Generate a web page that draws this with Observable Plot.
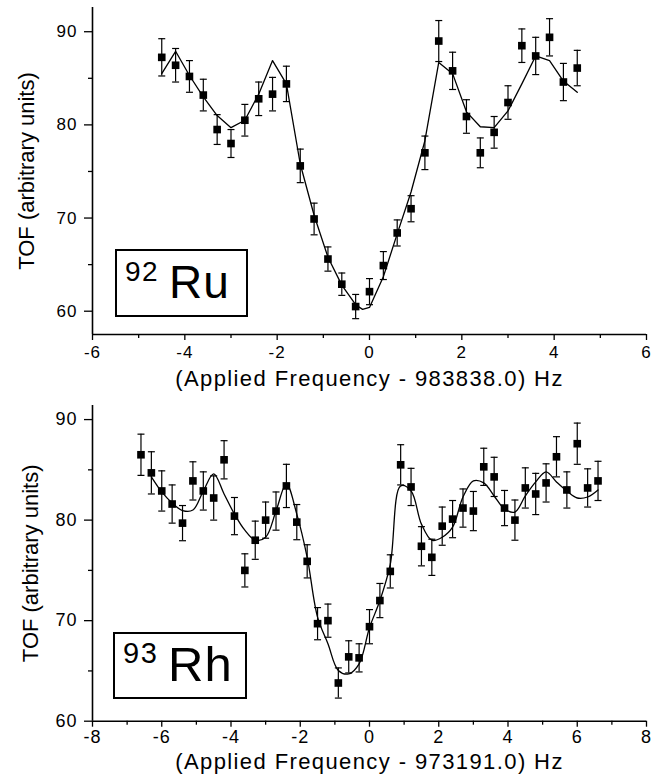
<!DOCTYPE html>
<html><head><meta charset="utf-8">
<script src="https://cdn.jsdelivr.net/npm/d3@7"></script>
<script src="https://cdn.jsdelivr.net/npm/@observablehq/plot@0.6"></script>
<style>
html,body{margin:0;padding:0;background:#fff;}
#wrap{position:relative;width:653px;height:776px;overflow:hidden;font-family:"Liberation Sans",Arial,sans-serif;background:#fff;}
#wrap svg{position:absolute;left:0;overflow:visible;}
g[aria-label="x-axis label"] text{letter-spacing:1.4px;}
g[aria-label="x-axis tick label"] text{letter-spacing:1px;}
g[aria-label="y-axis tick label"] text{letter-spacing:1px;}
.iso{position:absolute;border:2px solid #000;box-sizing:border-box;}
.iso span{position:absolute;line-height:1;white-space:nowrap;color:#000;}
</style></head><body><div id="wrap"></div>
<script>
// ---- 92Ru panel ----
const ruX = [-4.5,-4.2,-3.9,-3.6,-3.3,-3.0,-2.7,-2.4,-2.1,-1.8,-1.5,-1.2,-0.9,-0.6,-0.3,0.0,0.3,0.6,0.9,1.2,1.5,1.8,2.1,2.4,2.7,3.0,3.3,3.6,3.9,4.2,4.5];
const ruY = [87.25,86.4,85.2,83.2,79.5,78.0,80.5,82.8,83.3,84.4,75.6,69.9,65.6,62.9,60.5,62.1,64.9,68.4,71.0,77.0,89.0,85.8,80.9,77.0,79.2,82.4,88.5,87.4,89.4,84.6,86.1];
const ruErr = [2.0,1.8,1.7,1.7,1.6,1.5,1.7,1.8,1.8,1.9,1.8,1.7,1.3,1.2,1.3,1.4,1.5,1.4,1.4,1.8,2.2,2.0,1.8,1.6,1.7,1.8,1.8,2.0,2.0,2.0,1.9];
const ruFitX = [-4.5,-4.2,-3.9,-3.6,-3.3,-3.0,-2.7,-2.4,-2.1,-1.8,-1.5,-1.2,-0.9,-0.6,-0.3,-0.15,0.0,0.3,0.6,0.9,1.2,1.5,1.8,2.1,2.4,2.7,3.0,3.3,3.6,3.9,4.2,4.5];
const ruFitY = [85.5,87.9,85.3,83.0,81.0,79.7,80.5,83.3,86.9,84.4,75.8,70.3,65.8,62.8,60.7,60.2,60.4,63.7,68.3,72.8,78.3,86.7,85.5,81.4,79.8,79.7,81.5,84.4,87.4,86.9,84.7,83.5];
const ruXTicks = [-6,-4,-2,0,2,4,6];
const ruXMinor = [-5,-3,-1,1,3,5];
const ruYTicks = [60,70,80,90];
const ruYMinor = [65,75,85];
const ruXLabel = "(Applied Frequency - 983838.0) Hz";

// ---- 93Rh panel ----
const rhX = [-6.6,-6.3,-6.0,-5.7,-5.4,-5.1,-4.8,-4.5,-4.2,-3.9,-3.6,-3.3,-3.0,-2.7,-2.4,-2.1,-1.8,-1.5,-1.2,-0.9,-0.6,-0.3,0.0,0.3,0.6,0.9,1.2,1.5,1.8,2.1,2.4,2.7,3.0,3.3,3.6,3.9,4.2,4.5,4.8,5.1,5.4,5.7,6.0,6.3,6.6];
const rhY = [86.5,84.7,82.9,81.6,79.7,83.9,82.9,82.2,86.0,80.4,75.0,78.0,80.0,80.9,83.4,79.8,75.9,69.7,70.0,63.8,66.4,66.3,69.4,72.0,74.9,85.5,83.3,77.4,76.3,79.4,80.1,81.2,80.9,85.3,84.3,81.2,80.0,83.2,82.6,83.7,86.3,83.0,87.6,83.2,83.9];
const rhErr = [2.05,2.1,2.0,1.9,1.75,1.9,1.9,2.2,1.9,1.85,1.65,1.9,1.8,1.9,2.15,1.75,1.65,1.6,1.65,1.5,1.6,1.4,1.7,1.7,1.65,2.0,1.85,1.95,1.8,1.9,1.85,1.9,1.95,1.85,1.95,1.75,2.0,2.0,2.05,1.9,2.0,1.8,2.05,1.9,1.95];
const rhFitX = [-6.3,-6.0,-5.7,-5.4,-5.1,-4.8,-4.5,-4.2,-3.9,-3.6,-3.3,-3.0,-2.7,-2.4,-2.1,-1.8,-1.5,-1.2,-0.9,-0.6,-0.3,0.0,0.3,0.6,0.9,1.2,1.5,1.8,2.1,2.4,2.7,3.0,3.3,3.6,3.9,4.2,4.5,4.8,5.1,5.4,5.7,6.0,6.3,6.6];
const rhFitY = [84.3,82.8,81.7,80.95,81.0,82.9,84.6,82.6,80.6,79.0,78.0,78.3,80.9,83.6,80.6,76.3,70.35,67.7,65.05,64.7,65.7,69.3,72.0,75.6,83.4,82.9,79.6,78.0,78.3,79.3,82.3,83.9,83.7,82.4,81.1,80.8,82.4,83.8,84.8,83.8,82.9,82.2,82.3,83.0];
const rhXTicks = [-8,-6,-4,-2,0,2,4,6,8];
const rhXMinor = [-7,-5,-3,-1,1,3,5,7];
const rhYTicks = [60,70,80,90];
const rhYMinor = [65,75,85];
const rhXLabel = "(Applied Frequency - 973191.0) Hz";
const yLabel = "TOF (arbitrary units)";

const FONT = '"Liberation Sans", Arial, sans-serif';
const fmt = d => String(d);
const cap = {draw(ctx) { ctx.moveTo(-3.5, 0); ctx.lineTo(3.5, 0); }};

function panel(o) {
  const pts = o.xs.map((x, i) => ({x, y: o.ys[i], e: o.es[i]}));
  const fit = o.fitX.map((x, i) => ({x, y: o.fitY[i]}));
  return Plot.plot({
    width: 653, height: 388,
    marginLeft: 92, marginRight: 7, marginTop: o.mt, marginBottom: o.mb,
    style: {fontFamily: FONT, color: "#000", overflow: "visible", background: "transparent"},
    x: {domain: o.xDomain},
    y: {domain: o.yDomain},
    marks: [
      Plot.axisY({ticks: o.yTicks, tickSize: 8, tickPadding: 7, tickFormat: fmt, fontSize: o.tickFont, label: null, strokeWidth: 1.3}),
      Plot.axisY({ticks: o.yMinor, tickSize: 4, fill: "none", strokeWidth: 1.3}),
      Plot.axisY({ticks: [], tickSize: 0, label: yLabel, labelAnchor: "center", labelOffset: o.yLabelOffset, labelArrow: "none", fontSize: 22}),
      Plot.axisX({ticks: o.xTicks, tickSize: 6, tickPadding: o.xPad, tickFormat: fmt, fontSize: o.tickFont, label: null, strokeWidth: 1.3}),
      Plot.axisX({ticks: o.xMinor, tickSize: 4, fill: "none", strokeWidth: 1.3}),
      Plot.axisX({ticks: [], tickSize: 0, label: o.xLabel, labelAnchor: "center", labelOffset: o.xLabelOffset, labelArrow: "none", fontSize: 22}),
      Plot.ruleX([o.xDomain[0]], {strokeWidth: 1.6}),
      Plot.ruleY([o.yDomain[0]], {strokeWidth: 1.6}),
      Plot.ruleX(pts, {x: "x", y1: d => d.y - d.e, y2: d => d.y + d.e, strokeWidth: 1.2}),
      Plot.dot(pts, {x: "x", y: d => d.y + d.e, symbol: cap, r: 3, stroke: "#000", fill: "none", strokeWidth: 1.2}),
      Plot.dot(pts, {x: "x", y: d => d.y - d.e, symbol: cap, r: 3, stroke: "#000", fill: "none", strokeWidth: 1.2}),
      Plot.line(fit, {x: "x", y: "y", strokeWidth: 1.3, curve: o.curve}),
      Plot.dot(pts, {x: "x", y: "y", symbol: "square", r: 4.3, fill: "#000", stroke: "none"})
    ]
  });
}

const wrap = document.getElementById("wrap");

const top1 = panel({
  xs: ruX, ys: ruY, es: ruErr, fitX: ruFitX, fitY: ruFitY,
  xDomain: [-6, 6], yDomain: [57.5, 92.6], mt: 7, mb: 54,
  xTicks: ruXTicks, xMinor: ruXMinor, yTicks: ruYTicks, yMinor: ruYMinor,
  xLabel: ruXLabel, tickFont: 17, xPad: 5, yLabelOffset: 74, xLabelOffset: 51, curve: "linear"
});
top1.style.top = "0px";
wrap.appendChild(top1);

const bot = panel({
  xs: rhX, ys: rhY, es: rhErr, fitX: rhFitX, fitY: rhFitY,
  xDomain: [-8, 8], yDomain: [60, 91.4], mt: 17, mb: 55.3,
  xTicks: rhXTicks, xMinor: rhXMinor, yTicks: rhYTicks, yMinor: rhYMinor,
  xLabel: rhXLabel, tickFont: 18, xPad: 3, yLabelOffset: 70, xLabelOffset: 48, curve: "catmull-rom"
});
bot.style.top = "388px";
wrap.appendChild(bot);

function isoBox(left, top, w, h, mass, el, mFont, mPos, eFont, ePos) {
  const b = document.createElement("div");
  b.className = "iso";
  Object.assign(b.style, {left: left + "px", top: top + "px", width: w + "px", height: h + "px"});
  const s1 = document.createElement("span");
  s1.textContent = mass;
  Object.assign(s1.style, {fontSize: mFont + "px", left: mPos[0] + "px", top: mPos[1] + "px", letterSpacing: "1.5px"});
  const s2 = document.createElement("span");
  s2.textContent = el;
  Object.assign(s2.style, {fontSize: eFont + "px", left: ePos[0] + "px", top: ePos[1] + "px", letterSpacing: "1px"});
  b.appendChild(s1); b.appendChild(s2);
  wrap.appendChild(b);
}
isoBox(115, 249, 133, 68, "92", "Ru", 28, [8, 7], 46, [52, 8]);
isoBox(113, 632, 134, 67, "93", "Rh", 29, [8, 5], 49, [53, 6]);
</script>
</body></html>
